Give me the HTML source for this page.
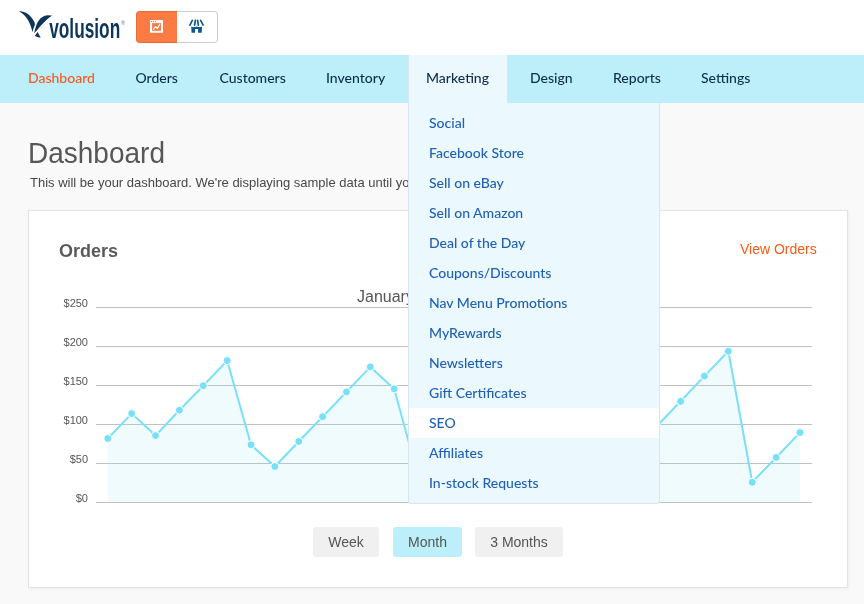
<!DOCTYPE html>
<html>
<head>
<meta charset="utf-8">
<style>
*{margin:0;padding:0;box-sizing:border-box}
html,body{width:864px;height:604px;overflow:hidden}
body{position:relative;background:#f9f9f9;font-family:"Liberation Sans",Arial,sans-serif;color:#555}
.abs{position:absolute}
#header{position:absolute;left:0;top:0;width:864px;height:55px;background:#fff}
#nav{position:absolute;left:0;top:55px;width:864px;height:48px;background:#bdeffa}
.nv{position:absolute;top:0;height:48px;line-height:46px;font-weight:500;font-family:Lato,"Liberation Sans",sans-serif;font-size:14px;color:#0f2e4e;white-space:nowrap}
#mtab{position:absolute;left:408px;top:55px;width:100px;height:48px;background:#ebf9fe;border-left:1px solid #d6e7f4;border-right:1px solid #d6e7f4}
#dd{position:absolute;left:408px;top:103px;width:252px;height:401px;background:#ebf9fe;border:1px solid #d6e7f4;border-top:none;border-radius:0 0 3px 3px}
.di{position:absolute;left:0;width:250px;height:30px;line-height:30px;font-weight:500;padding-left:20px;font-family:Lato,"Liberation Sans",sans-serif;font-size:14px;color:#1f60b4;white-space:nowrap}
.di.hov{background:#fff}
#card{position:absolute;left:28px;top:210px;width:820px;height:378px;background:#fff;border:1px solid #e3e3e3;box-shadow:1px 1px 3px rgba(0,0,0,.05)}
.btn{position:absolute;top:527px;height:30px;line-height:30px;border-radius:3px;background:#f0f0f0;font-size:14px;color:#555;text-align:center}
</style>
</head>
<body>
<div id="header">
  <!-- logo mark -->
  <svg class="abs" style="left:0;top:0" width="135" height="50" viewBox="0 0 135 50">
    <path fill="#0c3559" d="M18.9 11.3 C22.5 10.5 27.5 12.5 31 17 C33.5 20 35.3 23 34.9 24.6 L32.4 31.9 C31.5 27.5 29.5 22 27 18.5 C24.5 15 21.5 12.8 18.9 11.3Z"/>
    <path fill="#0c3559" d="M34.2 33.2 C35 29 36.5 23.5 38.6 20.8 C40.5 17.5 44 15.5 47.5 15.2 L52.1 15.4 C48.5 17.5 44.5 21.5 40.3 26.3 C38.5 28.5 36.5 31 34.2 33.2Z"/>
    <path fill="#0c3559" d="M37.7 32.1 C38.5 34 39.5 36 40.7 37.6 C38.5 37.5 36.5 37 34.9 35.8 C35.8 34.5 36.8 33.2 37.7 32.1Z"/>
    <text x="0" y="38.4" font-family="Liberation Sans, Arial, sans-serif" font-weight="bold" font-size="28" fill="#0c3559" transform="translate(49.2 0) scale(0.617 1)">volusion</text>
    <text x="120.9" y="25" font-family="Liberation Sans, Arial, sans-serif" font-size="5.6" font-weight="bold" fill="#8496a8">®</text>
  </svg>
  <!-- button group -->
  <div class="abs" style="left:136px;top:11px;width:41px;height:32px;background:#fc7b44;border:1px solid #e86c35;border-right:none;border-radius:4px 0 0 4px"></div>
  <div class="abs" style="left:177px;top:11px;width:41px;height:32px;background:#fff;border:1px solid #cdcdcd;border-left:none;border-radius:0 4px 4px 0"></div>
  <svg class="abs" style="left:0;top:0" width="230" height="50" viewBox="0 0 230 50">
    <rect x="150" y="20" width="13" height="12.8" rx="0.6" fill="#fff"/>
    <rect x="152.1" y="23.1" width="8.9" height="7.7" fill="#fc7b44"/>
    <g fill="#fc7b44"><circle cx="151.5" cy="21.5" r="0.65"/><circle cx="153.5" cy="21.5" r="0.65"/><circle cx="155.5" cy="21.5" r="0.65"/></g>
    <polyline points="153.5,29.3 155.5,26.5 157.4,28.5 159.7,24.4" fill="none" stroke="#fff" stroke-width="1.15" stroke-linecap="round" stroke-linejoin="round"/>
    <!-- store icon -->
    <g stroke="#11568f" stroke-width="1.7" stroke-linecap="round">
      <line x1="192.3" y1="20.4" x2="189.9" y2="25.1"/>
      <line x1="195.3" y1="20.4" x2="194.6" y2="25.1"/>
      <line x1="197.6" y1="20.4" x2="198.3" y2="25.1"/>
      <line x1="200.6" y1="20.4" x2="203.1" y2="25.1"/>
    </g>
    <path fill="#11568f" d="M191.2 26.5 Q193.9 27.6 196.6 26.5 Q199.3 27.6 202.1 26.5 L201.7 32.8 L198.1 32.8 L198.1 28.9 L195.1 28.9 L195.1 32.8 L191.6 32.8 Z"/>
  </svg>
</div>

<div id="nav"></div>
<div id="mtab"></div>
<div class="nv" style="left:28px;top:55px;color:#f7591f">Dashboard</div>
<div class="nv" style="left:135.5px;top:55px">Orders</div>
<div class="nv" style="left:219.5px;top:55px">Customers</div>
<div class="nv" style="left:326px;top:55px">Inventory</div>
<div class="nv" style="left:426px;top:55px">Marketing</div>
<div class="nv" style="left:530px;top:55px">Design</div>
<div class="nv" style="left:613px;top:55px">Reports</div>
<div class="nv" style="left:701px;top:55px">Settings</div>

<div class="abs" style="left:28px;top:137px;font-size:28px;line-height:34px;color:#575757;white-space:nowrap;transform:scale(1,1.08);transform-origin:0 26px">Dashboard</div>
<div class="abs" style="left:30px;top:174.7px;font-size:13px;line-height:16px;color:#484848;white-space:nowrap">This will be your dashboard. We're displaying sample data until you have real orders.</div>

<div id="card"></div>
<div class="abs" style="left:59px;top:241px;font-size:18px;line-height:20px;font-weight:bold;color:#5a5a5a">Orders</div>
<div class="abs" style="left:740px;top:241px;font-size:14px;line-height:17px;color:#fb5a14">View Orders</div>

<svg class="abs" style="left:0;top:0" width="864" height="604" viewBox="0 0 864 604" font-family="Liberation Sans, Arial, sans-serif">
  <text x="357" y="302.3" font-size="16" fill="#555">January 2015</text>
  <g fill="#555" font-size="11" text-anchor="end">
    <text x="88" y="307">$250</text>
    <text x="88" y="346">$200</text>
    <text x="88" y="385">$150</text>
    <text x="88" y="424">$100</text>
    <text x="88" y="463">$50</text>
    <text x="88" y="502">$0</text>
  </g>
  <g stroke="#c1c1c1" stroke-width="1">
    <line x1="96" y1="307.5" x2="812" y2="307.5"/>
    <line x1="96" y1="346.5" x2="812" y2="346.5"/>
    <line x1="96" y1="385.5" x2="812" y2="385.5"/>
    <line x1="96" y1="424.5" x2="812" y2="424.5"/>
    <line x1="96" y1="463.5" x2="812" y2="463.5"/>
    <line x1="96" y1="502.5" x2="812" y2="502.5"/>
  </g>
  <g id="series"><polygon points="107.8,502 107.8,438.5 131.67,413.6 155.53,435.6 179.4,410.2 203.27,385.7 227.14,360.6 251.0,444.8 274.87,466.5 298.74,441.5 322.61,416.7 346.47,391.9 370.34,366.9 394.21,388.9 418.07,476 441.94,450 465.81,430 489.68,455 513.54,420 537.41,440 561.28,400 585.14,445 609.01,470 632.88,450 656.75,426.3 680.61,401.3 704.48,376.1 728.35,351.3 752.22,482.3 776.08,457.5 799.95,432.6 799.95,502" fill="rgba(120,222,248,0.115)"/><polyline points="107.8,438.5 131.67,413.6 155.53,435.6 179.4,410.2 203.27,385.7 227.14,360.6 251.0,444.8 274.87,466.5 298.74,441.5 322.61,416.7 346.47,391.9 370.34,366.9 394.21,388.9 418.07,476 441.94,450 465.81,430 489.68,455 513.54,420 537.41,440 561.28,400 585.14,445 609.01,470 632.88,450 656.75,426.3 680.61,401.3 704.48,376.1 728.35,351.3 752.22,482.3 776.08,457.5 799.95,432.6" fill="none" stroke="#78e0f8" stroke-width="2" stroke-linejoin="round"/><g fill="#78e0f8" stroke="#fff" stroke-width="1"><circle cx="107.8" cy="438.5" r="4"/><circle cx="131.67" cy="413.6" r="4"/><circle cx="155.53" cy="435.6" r="4"/><circle cx="179.4" cy="410.2" r="4"/><circle cx="203.27" cy="385.7" r="4"/><circle cx="227.14" cy="360.6" r="4"/><circle cx="251.0" cy="444.8" r="4"/><circle cx="274.87" cy="466.5" r="4"/><circle cx="298.74" cy="441.5" r="4"/><circle cx="322.61" cy="416.7" r="4"/><circle cx="346.47" cy="391.9" r="4"/><circle cx="370.34" cy="366.9" r="4"/><circle cx="394.21" cy="388.9" r="4"/><circle cx="418.07" cy="476" r="4"/><circle cx="441.94" cy="450" r="4"/><circle cx="465.81" cy="430" r="4"/><circle cx="489.68" cy="455" r="4"/><circle cx="513.54" cy="420" r="4"/><circle cx="537.41" cy="440" r="4"/><circle cx="561.28" cy="400" r="4"/><circle cx="585.14" cy="445" r="4"/><circle cx="609.01" cy="470" r="4"/><circle cx="632.88" cy="450" r="4"/><circle cx="656.75" cy="426.3" r="4"/><circle cx="680.61" cy="401.3" r="4"/><circle cx="704.48" cy="376.1" r="4"/><circle cx="728.35" cy="351.3" r="4"/><circle cx="752.22" cy="482.3" r="4"/><circle cx="776.08" cy="457.5" r="4"/><circle cx="799.95" cy="432.6" r="4"/></g></g>
</svg>

<div class="btn" style="left:313px;width:66px">Week</div>
<div class="btn" style="left:393px;width:69px;background:#bdeffa">Month</div>
<div class="btn" style="left:475px;width:88px">3 Months</div>

<div id="dd">
  <div class="di" style="top:5px">Social</div>
  <div class="di" style="top:35px">Facebook Store</div>
  <div class="di" style="top:65px">Sell on eBay</div>
  <div class="di" style="top:95px">Sell on Amazon</div>
  <div class="di" style="top:125px">Deal of the Day</div>
  <div class="di" style="top:155px">Coupons/Discounts</div>
  <div class="di" style="top:185px">Nav Menu Promotions</div>
  <div class="di" style="top:215px">MyRewards</div>
  <div class="di" style="top:245px">Newsletters</div>
  <div class="di" style="top:275px">Gift Certificates</div>
  <div class="di hov" style="top:305px">SEO</div>
  <div class="di" style="top:335px">Affiliates</div>
  <div class="di" style="top:365px">In-stock Requests</div>
</div>
</body>
</html>
